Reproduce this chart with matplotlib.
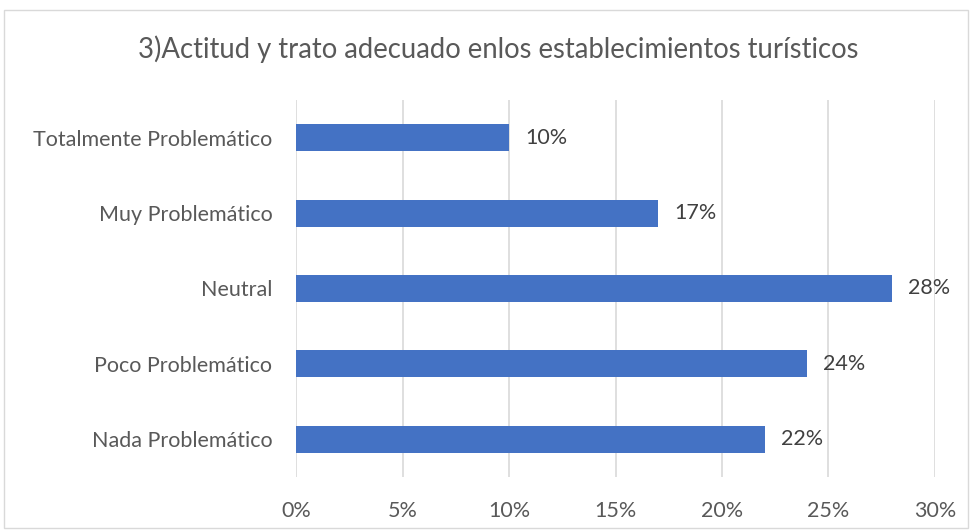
import matplotlib
matplotlib.use("Agg")
import matplotlib.pyplot as plt
from matplotlib.patches import Rectangle

categories = ["Nada Problemático", "Poco Problemático", "Neutral", "Muy Problemático", "Totalmente Problemático"]
values = [22, 24, 28, 17, 10]
xticks = [0, 5, 10, 15, 20, 25, 30]
title = "3)Actitud y trato adecuado enlos establecimientos turísticos"

plt.rcParams['font.family'] = ['Lato', 'DejaVu Sans']

fig = plt.figure(figsize=(9.74, 5.3), dpi=100)
ax = fig.add_axes([296/974, 53/530, (935-296)/974, (477-100)/530])

ypos = list(range(len(categories)))
ax.barh(ypos, values, height=0.36, color="#4472C4", zorder=3)
for y, v in zip(ypos, values):
    ax.text(v + 0.75, y, f"{v}%", va="center", ha="left", fontsize=15.5, color="#404040")

ax.set_xlim(0, 30)
ax.set_ylim(-0.5, len(categories) - 0.5)
ax.set_yticks(ypos)
ax.set_yticklabels(categories, fontsize=15.5, color="#595959")
ax.set_xticks(xticks)
ax.set_xticklabels([f"{t}%" for t in xticks], fontsize=15.5, color="#595959")
ax.tick_params(axis="x", length=0, pad=17)
ax.tick_params(axis="y", length=0, pad=17)
ax.grid(axis="x", color="#D9D9D9", linewidth=1.2, zorder=0)
for s in ax.spines.values():
    s.set_visible(False)

fig.text(498/974, 1 - 49/530, title, ha="center", va="center", fontsize=19.8, color="#595959")
fig.patches.append(Rectangle((4/974, 2/530), 964/974, 518/530, transform=fig.transFigure,
                             fill=False, edgecolor="#D9D9D9", linewidth=1))

fig.savefig("out.png", dpi=100)
